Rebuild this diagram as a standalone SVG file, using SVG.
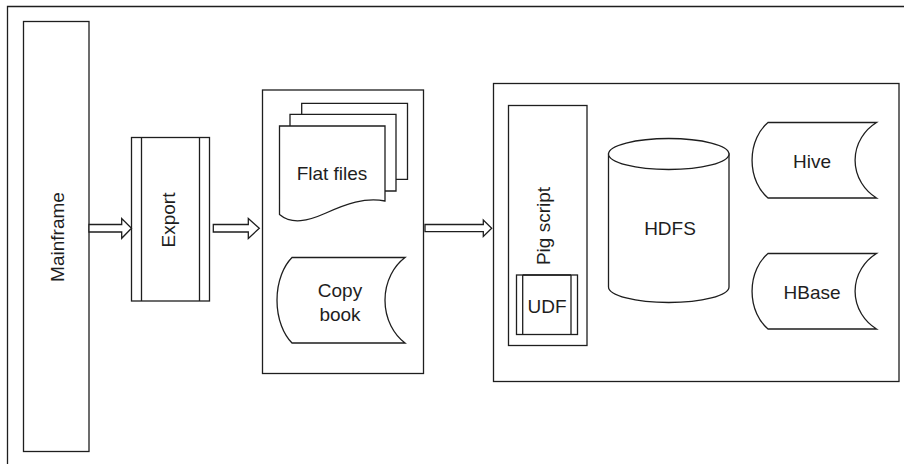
<svg xmlns="http://www.w3.org/2000/svg" width="904" height="464" viewBox="0 0 904 464">
<style>
.s{fill:#fff;stroke:#1e1e1e;stroke-width:1.3}
.n{fill:none;stroke:#1e1e1e;stroke-width:1.3}
.t{font-family:"Liberation Sans",Arial,sans-serif;font-size:19px;fill:#1e1e1e;text-anchor:middle}
</style>
<rect width="904" height="464" fill="#fff"/>
<path class="n" d="M7.5,464 V6.5 H904" stroke-width="1.6"/>
<g id="mainframe">
<rect class="s" x="23.5" y="21.5" width="65.5" height="430"/>
<text class="t" transform="translate(64,237) rotate(-90)">Mainframe</text>
</g>
<g id="export">
<rect class="s" x="131.5" y="137.5" width="78" height="163.5"/>
<path class="n" d="M141.5,137.5 V301 M199.5,137.5 V301"/>
<text class="t" transform="translate(174.5,220) rotate(-90)">Export</text>
</g>
<g id="files-box">
<rect class="s" x="262.5" y="90" width="161" height="283.5"/>
</g>
<g id="flat-files">
<path class="s" d="M301.7,114.3 V103.3 H407.5 V179.3 H396"/>
<path class="s" d="M290,126 V114.3 H396 V191 H385"/>
<path class="s" d="M279.5,126 H385 V201 C365,197 346,204 326,213 C308,221 292,225 279.5,214.5 Z"/>
<text class="t" x="332" y="180">Flat files</text>
</g>
<g id="copybook">
<path class="s" d="M405,257.5 H292 A33,51 0 0 0 292,343 H405 A44,51 0 0 1 405,257.5 Z"/>
<text class="t" x="340" y="297">Copy</text>
<text class="t" x="340" y="321">book</text>
</g>
<g id="hadoop-box">
<rect class="s" x="493.5" y="83.5" width="405.5" height="298"/>
</g>
<g id="pig-script">
<rect class="s" x="508.5" y="105.5" width="78.5" height="240"/>
<text class="t" transform="translate(550,226) rotate(-90)">Pig script</text>
</g>
<g id="udf">
<rect class="s" x="516.5" y="275" width="61" height="59.5"/>
<path class="n" d="M522.7,275 V334.5 M571,275 V334.5"/>
<path class="n" d="M522.7,275 H571" stroke-width="2"/>
<text class="t" x="547" y="313">UDF</text>
</g>
<g id="hdfs">
<path class="s" d="M608.5,154 V287 A60.25,15.5 0 0 0 729,287 V154 Z"/>
<ellipse class="s" cx="668.75" cy="154" rx="60.25" ry="15.5"/>
<text class="t" x="670" y="234.5">HDFS</text>
</g>
<g id="hive">
<path class="s" d="M876.5,122.5 H768 A35,45 0 0 0 768,198 H876.5 A47,45 0 0 1 876.5,122.5 Z"/>
<text class="t" x="812" y="167.5">Hive</text>
</g>
<g id="hbase">
<path class="s" d="M876.5,253.5 H768 A35,45 0 0 0 768,329 H876.5 A47,45 0 0 1 876.5,253.5 Z"/>
<text class="t" x="812" y="299">HBase</text>
</g>
<g id="connectors">
<path class="s" d="M89,224.5 H121.7 V218.5 L131.5,228.3 L121.7,238.3 V232 H89 Z"/>
<path class="s" d="M213.3,224.5 H248.3 V218.5 L259.3,228.3 L248.3,238.5 V232 H213.3 Z"/>
<path class="s" d="M425,224.5 H483.3 V220 L491.7,228.3 L483.3,236.5 V231.7 H425 Z"/>
</g>
</svg>
